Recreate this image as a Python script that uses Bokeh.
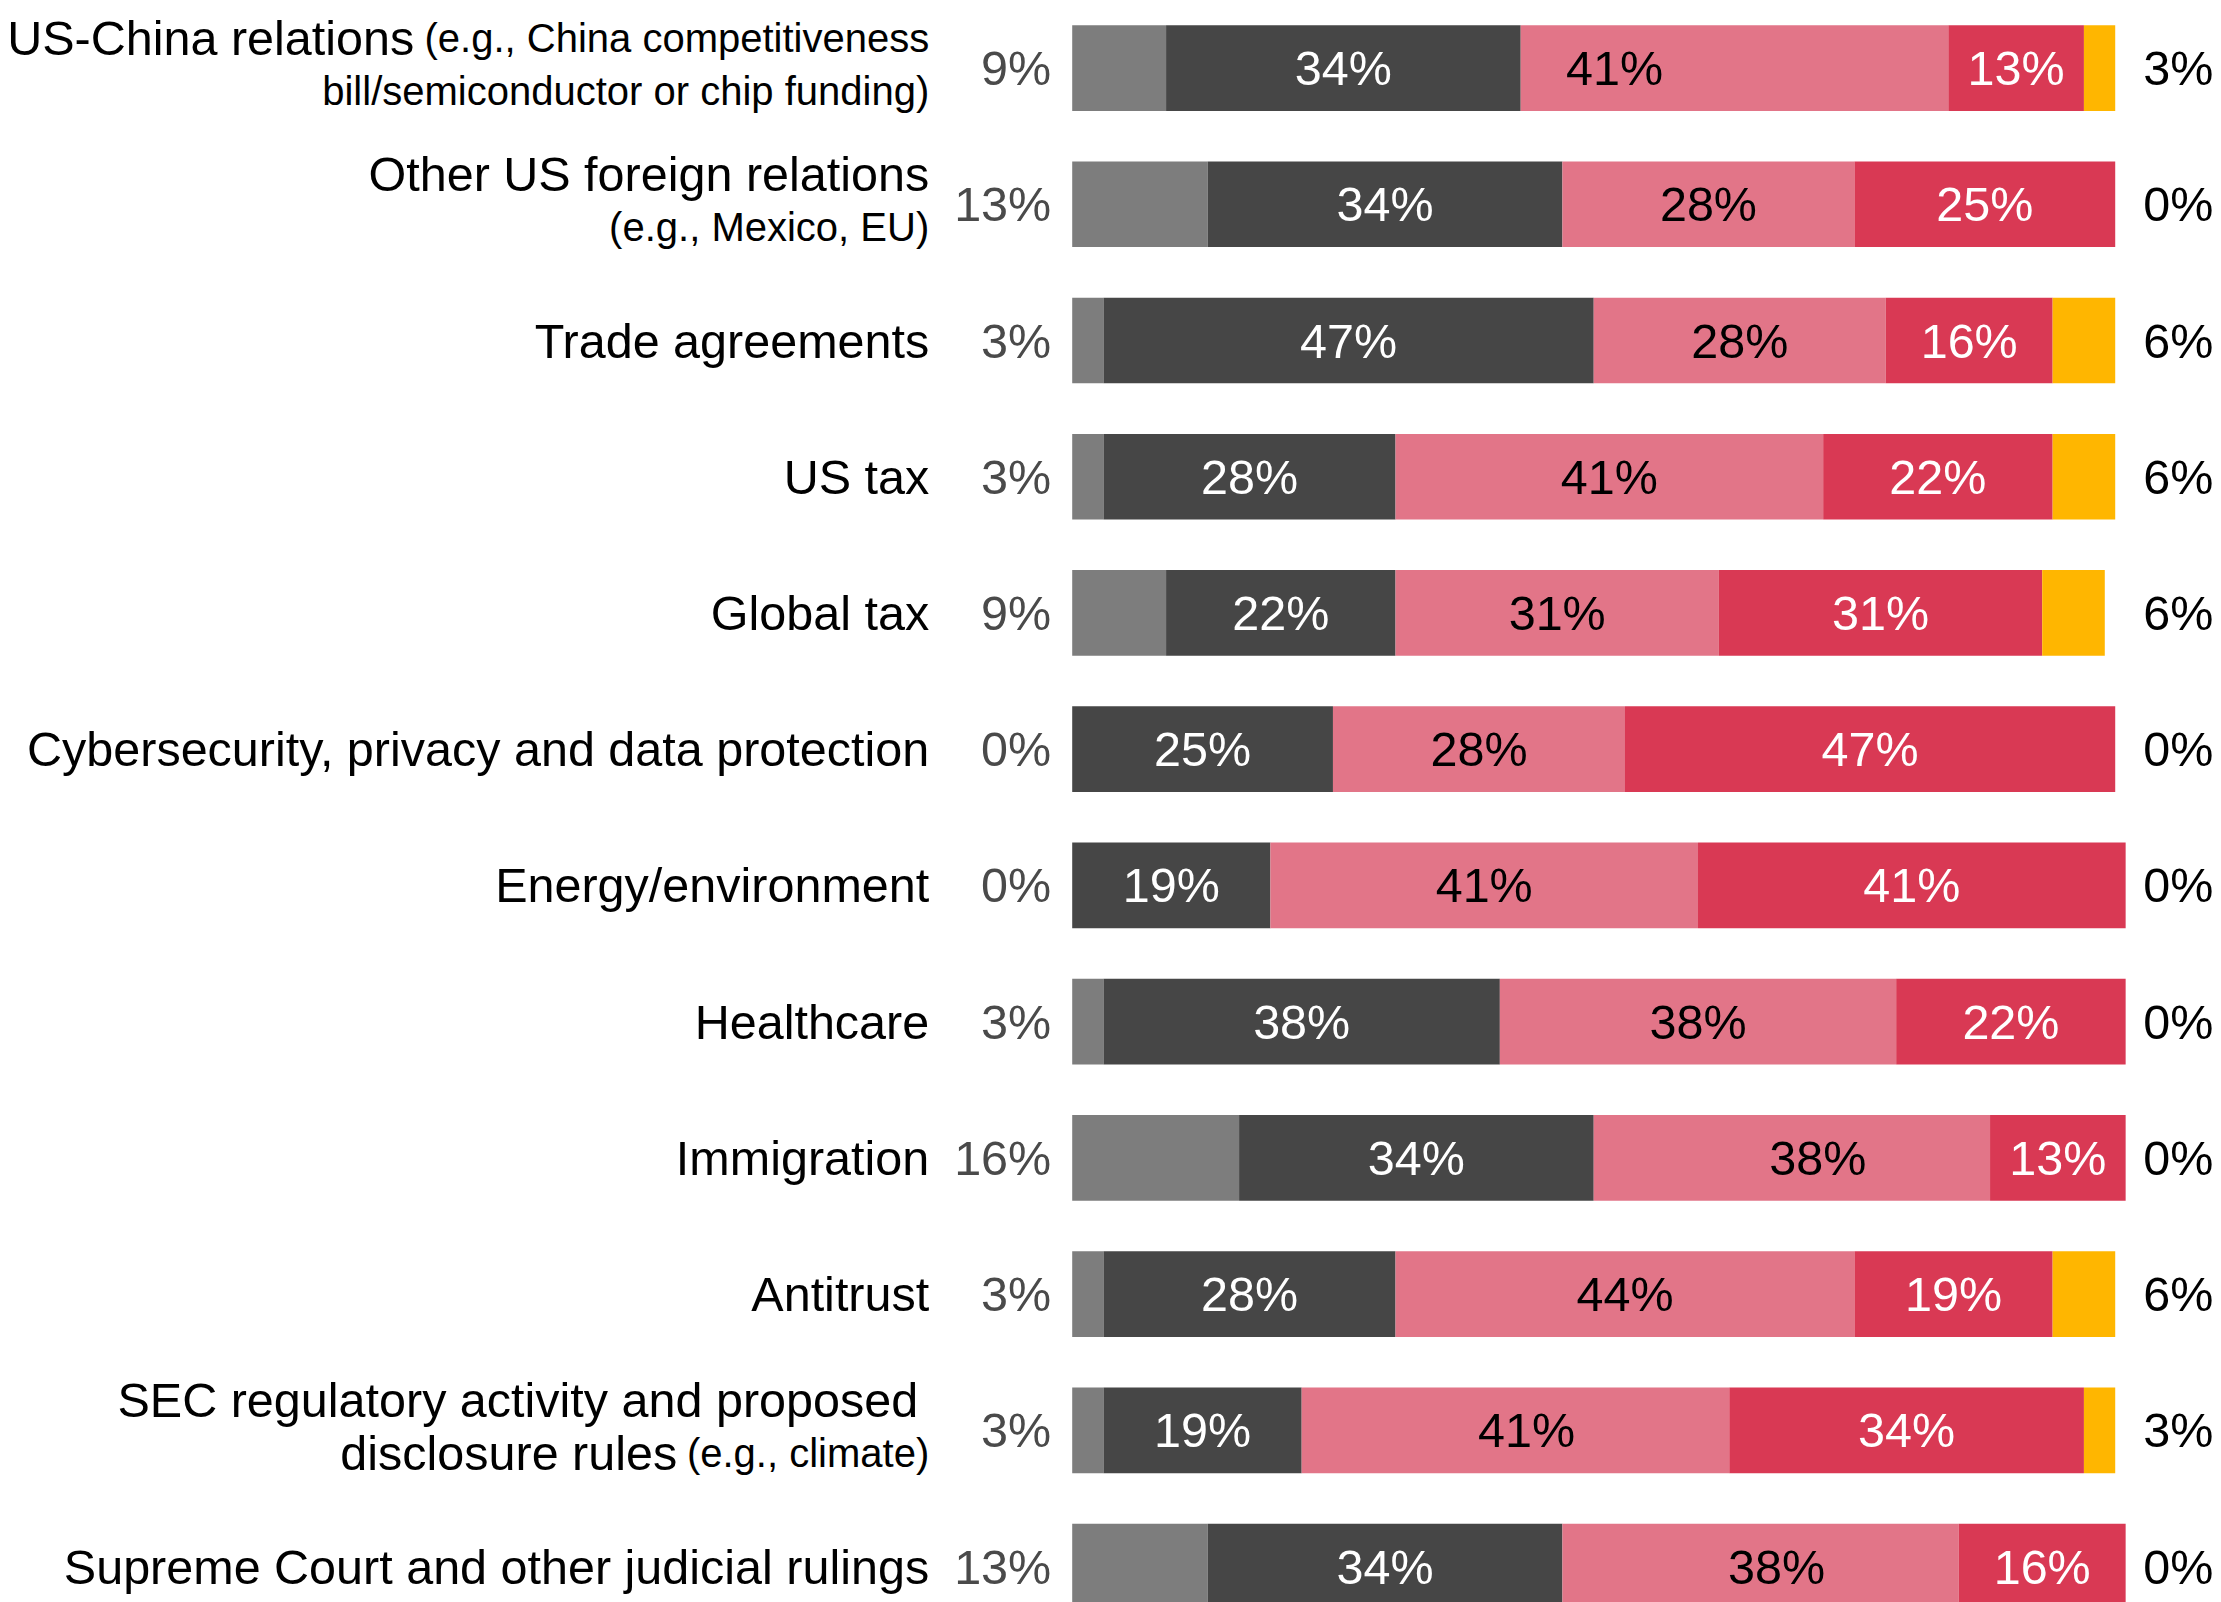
from bokeh.plotting import figure
from bokeh.models import ColumnDataSource, Range1d
from bokeh.embed import file_html
from bokeh.resources import INLINE
from bokeh.core.properties import value

# ---------------- data ----------------
categories = [
    "US-China relations",
    "Other US foreign relations",
    "Trade agreements",
    "US tax",
    "Global tax",
    "Cybersecurity, privacy and data protection",
    "Energy/environment",
    "Healthcare",
    "Immigration",
    "Antitrust",
    "SEC regulatory activity and proposed disclosure rules",
    "Supreme Court and other judicial rulings",
]
s_gray = [9, 13, 3, 3, 9, 0, 0, 3, 16, 3, 3, 13]
s_dark = [34, 34, 47, 28, 22, 25, 19, 38, 34, 28, 19, 34]
s_pink = [41, 28, 28, 41, 31, 28, 41, 38, 38, 44, 41, 38]
s_red = [13, 25, 16, 22, 31, 47, 41, 22, 13, 19, 34, 16]
s_yellow = [3, 0, 6, 6, 6, 0, 0, 0, 0, 6, 3, 0]

# label lines for rows with extra notes: row -> [(large part, small part), ...]
label_parts = {
    0: [("US-China relations", "(e.g., China competitiveness"),
        ("", "bill/semiconductor or chip funding)")],
    1: [("Other US foreign relations", ""),
        ("", "(e.g., Mexico, EU)")],
    10: [("SEC regulatory activity and proposed", ""),
         ("disclosure rules", "(e.g., climate)")],
}

series = [s_gray, s_dark, s_pink, s_red, s_yellow]
colors = ["#7D7D7D", "#464646", "#E27588", "#D93954", "#FFB600"]
text_colors = [None, "#FFFFFF", "#000000", "#FFFFFF", None]

# style: pixel nudges of a few in-bar labels, as placed in the original
label_nudge = {(0, 2): -120, (8, 2): 26, (11, 2): 16, (10, 2): 11}

FONT = value("Liberation Sans")
BIG = "48.5px"
SMALL = "40px"

p = figure(width=2221, height=1602, output_backend="svg", toolbar_location=None,
           x_range=Range1d(-102.75, 110.19), y_range=Range1d(11.2636, -0.4958),
           min_border=0, min_border_left=0, min_border_right=0,
           min_border_top=0, min_border_bottom=0)
p.outline_line_color = None
p.xaxis.visible = False
p.yaxis.visible = False
p.xgrid.visible = False
p.ygrid.visible = False
p.background_fill_color = "white"
p.border_fill_color = "white"

rows = list(range(len(categories)))
BAR_H = 0.629

# stacked bars
left = [0.0] * len(rows)
for si, vals in enumerate(series):
    right = [l + v for l, v in zip(left, vals)]
    src = ColumnDataSource(dict(y=rows, left=left, right=right))
    p.hbar(y="y", left="left", right="right", height=BAR_H, source=src,
           fill_color=colors[si], line_color=None)
    tc = text_colors[si]
    if tc is not None:
        ys, xs, ts, dx = [], [], [], []
        for r, (l, v) in enumerate(zip(left, vals)):
            if v > 0:
                ys.append(r)
                xs.append(l + v / 2.0)
                ts.append(f"{v}%")
                dx.append(label_nudge.get((r, si), 0))
        tsrc = ColumnDataSource(dict(x=xs, y=ys, text=ts, dx=dx))
        p.text(x="x", y="y", text="text", source=tsrc, x_offset="dx",
               text_font=FONT, text_font_size=BIG,
               text_color=tc, text_align="center", text_baseline="alphabetic",
               y_offset=0)
    left = right

# left percentages (first series)
p.text(x=[0] * len(rows), y=rows, text=[f"{v}%" for v in s_gray],
       text_font=FONT, text_font_size=BIG, text_color="#4A4A4A",
       text_align="right", text_baseline="alphabetic", x_offset=-21, y_offset=0)

# right percentages (last series)
p.text(x=[100] * len(rows), y=rows, text=[f"{v}%" for v in s_yellow],
       text_font=FONT, text_font_size=BIG, text_color="#000000",
       text_align="left", text_baseline="alphabetic", x_offset=28, y_offset=0)

# category labels
LBL_DX = -143
line_dy = [-30, 23]
big_shift = {(0, 0): -515, (10, 0): -11, (10, 1): -252}
for r, name in enumerate(categories):
    if r not in label_parts:
        p.text(x=[0], y=[r], text=[name], text_font=FONT, text_font_size=BIG,
               text_color="#000000", text_align="right", text_baseline="alphabetic",
               x_offset=LBL_DX, y_offset=0)
        continue
    for li, (big, small) in enumerate(label_parts[r]):
        if small:
            p.text(x=[0], y=[r], text=[small], text_font=FONT, text_font_size=SMALL,
                   text_color="#000000", text_align="right", text_baseline="alphabetic",
                   x_offset=LBL_DX, y_offset=line_dy[li])
        if big:
            p.text(x=[0], y=[r], text=[big], text_font=FONT, text_font_size=BIG,
                   text_color="#000000", text_align="right", text_baseline="alphabetic",
                   x_offset=LBL_DX + big_shift.get((r, li), 0), y_offset=line_dy[li])

open("out.html", "w").write(file_html(p, INLINE))
